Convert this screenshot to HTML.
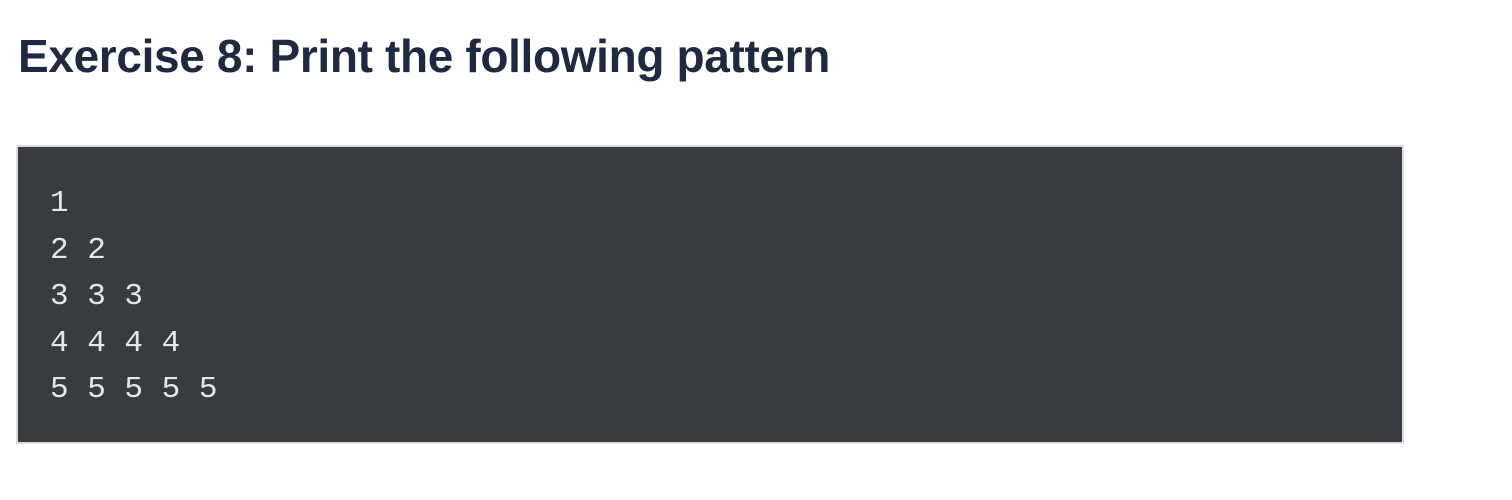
<!DOCTYPE html>
<html><head><meta charset="utf-8"><style>
html,body{margin:0;padding:0;background:#fff;width:1512px;height:500px;overflow:hidden}
h1{position:absolute;left:18px;top:26px;margin:0;font-family:"Liberation Sans",sans-serif;font-weight:bold;font-size:46px;line-height:60px;color:#1f2940;letter-spacing:-0.35px;white-space:nowrap}
pre{position:absolute;left:16px;top:145px;width:1384px;height:295px;margin:0;background:#383b40;border:2px solid #dcdcdc;box-sizing:content-box}
pre code{position:absolute;left:32px;top:34px;font-family:"Liberation Mono",monospace;font-size:31px;line-height:46.5px;color:#e6e6e6;white-space:pre}
</style></head><body>
<h1>Exercise 8: Print the following pattern</h1>
<pre><code>1
2 2
3 3 3
4 4 4 4
5 5 5 5 5</code></pre>
</body></html>
